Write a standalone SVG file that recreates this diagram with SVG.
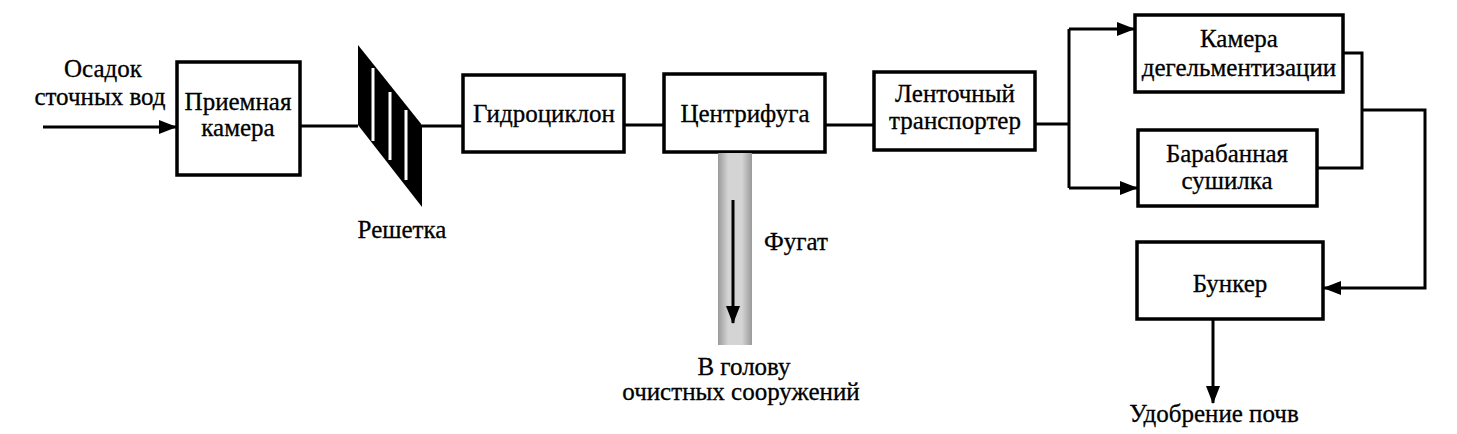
<svg xmlns="http://www.w3.org/2000/svg" width="1457" height="434" viewBox="0 0 1457 434">
<style>
.box{fill:#fff;stroke:#000;stroke-width:3.5}
.ln{fill:none;stroke:#000;stroke-width:3}
text{font-family:"Liberation Serif","DejaVu Serif","Times New Roman",serif;font-size:25px;fill:#000;stroke:#000;stroke-width:0.3;text-anchor:middle}
</style>
<defs>
<marker id="ah" viewBox="0 0 18 14" refX="17" refY="7" markerWidth="18" markerHeight="14" markerUnits="userSpaceOnUse" orient="auto">
<path d="M0,0 L18,7 L0,14 Z" fill="#000"/>
</marker>
<linearGradient id="gs" x1="0" y1="0" x2="1" y2="0">
<stop offset="0" stop-color="#9a9a9a"/>
<stop offset="0.3" stop-color="#d4d4d4"/>
<stop offset="0.7" stop-color="#d4d4d4"/>
<stop offset="1" stop-color="#9a9a9a"/>
</linearGradient>
</defs>
<rect width="1457" height="434" fill="#fff"/>

<g id="connectors">
<line class="ln" x1="43" y1="127" x2="176" y2="127" marker-end="url(#ah)"/>
<line class="ln" x1="300" y1="126" x2="358" y2="126"/>
<line class="ln" x1="422" y1="126" x2="463" y2="126"/>
<line class="ln" x1="624" y1="125" x2="664" y2="125"/>
<line class="ln" x1="825" y1="125" x2="874" y2="125"/>
<polyline class="ln" points="1035,124 1069,124"/>
<polyline class="ln" points="1069,29 1069,188"/>
<line class="ln" x1="1069" y1="29" x2="1134" y2="29" marker-end="url(#ah)"/>
<line class="ln" x1="1069" y1="188" x2="1137" y2="188" marker-end="url(#ah)"/>
<polyline class="ln" points="1343,53 1362,53 1362,168 1317,168"/>
<polyline class="ln" points="1362,110 1425,110 1425,288 1324,288" marker-end="url(#ah)"/>
<line class="ln" x1="1213" y1="319" x2="1213" y2="403" marker-end="url(#ah)"/>
</g>

<g id="source">
<text x="103" y="77">Осадок</text>
<text x="100" y="105">сточных вод</text>
</g>

<g id="priemnaya">
<rect class="box" x="177" y="62" width="123" height="113"/>
<text x="238" y="110">Приемная</text>
<text x="238" y="136">камера</text>
</g>

<g id="reshetka">
<polygon points="358,45 422,125 422,207 358,125" fill="#000"/>
<line x1="373" y1="68" x2="373" y2="141" stroke="#fff" stroke-width="3"/>
<line x1="390" y1="92" x2="390" y2="160" stroke="#fff" stroke-width="3"/>
<line x1="406" y1="110" x2="406" y2="180" stroke="#fff" stroke-width="3"/>
<text x="402" y="238">Решетка</text>
</g>

<g id="gidrociklon">
<rect class="box" x="463" y="75" width="161" height="77"/>
<text x="544" y="122">Гидроциклон</text>
</g>

<g id="centrifuga">
<rect class="box" x="664" y="74" width="161" height="78"/>
<text x="745" y="122">Центрифуга</text>
</g>

<g id="fugat">
<rect x="718" y="153" width="34" height="192" fill="url(#gs)"/>
<line class="ln" x1="733" y1="200" x2="733" y2="323" marker-end="url(#ah)"/>
<text x="796" y="250">Фугат</text>
<text x="744" y="375">В голову</text>
<text x="741" y="400">очистных сооружений</text>
</g>

<g id="lentochny">
<rect class="box" x="874" y="72" width="161" height="78"/>
<text x="955" y="102">Ленточный</text>
<text x="955" y="129">транспортер</text>
</g>

<g id="kamera">
<rect class="box" x="1135" y="15" width="208" height="77"/>
<text x="1239" y="47">Камера</text>
<text x="1239" y="76">дегельментизации</text>
</g>

<g id="baraban">
<rect class="box" x="1138" y="130" width="179" height="76"/>
<text x="1227" y="162">Барабанная</text>
<text x="1227" y="189">сушилка</text>
</g>

<g id="bunker">
<rect class="box" x="1137" y="242" width="186" height="77"/>
<text x="1230" y="292">Бункер</text>
</g>

<g id="udobrenie">
<text x="1214" y="422">Удобрение почв</text>
</g>
</svg>
